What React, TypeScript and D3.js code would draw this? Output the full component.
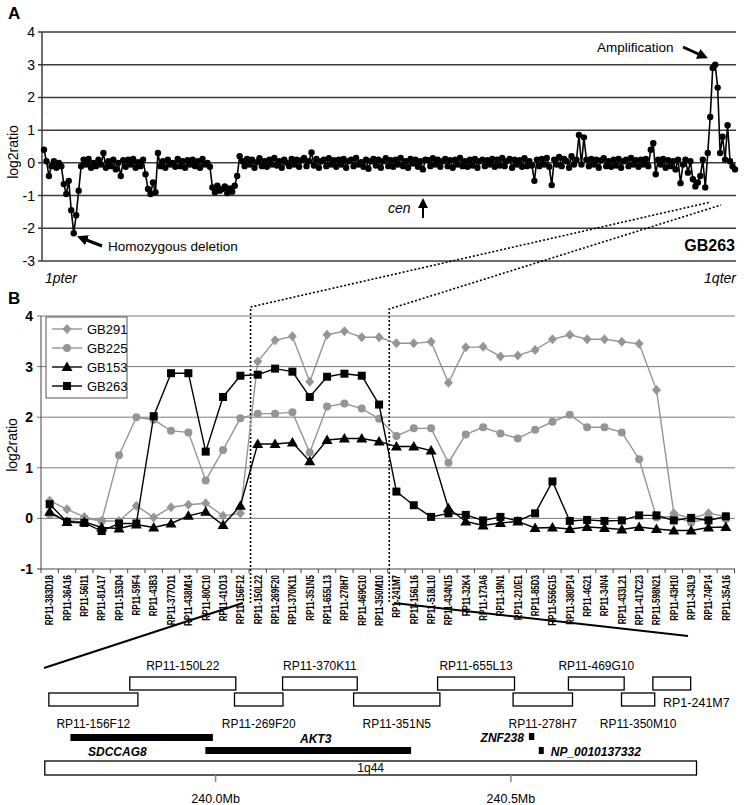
import React from "react";
import * as d3 from "d3";

// ---------- Panel A : chromosome 1 profile of GB263 (log2 ratio, ordered pter -> qter)
const cnA: number[] = [
  0.4, 0.05, -0.4, -0.1, 0.05, -0.15, 0.0, -0.1, -0.65, -0.95, -0.55, -1.45, -2.15, -1.6, -0.85, -0.1, 0.1, -0.05, 0.12, -0.15,
  0.0, -0.1, 0.1, -0.05, 0.3, -0.15, 0.05, -0.1, 0.1, -0.2, 0.0, -0.4, 0.08, -0.12, 0.1, -0.05, 0.12, -0.15, 0.02, -0.1,
  0.1, -0.35, -0.8, -0.95, -0.6, -0.9, 0.3, -0.1, 0.05, -0.15, 0.1, -0.05, 0.0, -0.12, 0.12, -0.1, 0.05, -0.15, 0.08, -0.05,
  0.1, -0.1, 0.05, -0.15, 0.12, -0.05, 0.0, -0.12, -0.75, -0.9, -0.7, -0.85, -0.8, -0.72, -0.92, -0.78, -0.88, -0.7, -0.4, 0.2,
  0.05, -0.1, 0.12, -0.05, 0.1, -0.15, 0.02, 0.14, -0.1, 0.05, -0.12, 0.1, -0.05, 0.15, -0.08, 0.05, -0.15, 0.1, 0.0, -0.1,
  0.12, -0.05, 0.1, -0.12, 0.08, 0.15, -0.1, 0.05, 0.32, -0.08, 0.12, -0.15, 0.05, 0.1, -0.1, 0.14, -0.05, 0.08, -0.12, 0.1,
  -0.05, 0.12, -0.15, 0.05, 0.1, -0.1, 0.15, -0.05, 0.02, -0.12, 0.1, -0.18, 0.05, 0.12, -0.08, 0.1, -0.15, 0.05, 0.14, -0.1,
  0.08, -0.12, 0.1, -0.05, 0.15, -0.1, 0.05, -0.15, 0.12, -0.02, 0.1, -0.12, 0.05, -0.2, 0.1, 0.08, -0.1, 0.14, -0.05, 0.1,
  -0.12, 0.05, 0.12, -0.1, 0.08, -0.15, 0.1, -0.05, 0.15, -0.1, 0.05, -0.12, 0.1, -0.08, 0.12, -0.15, 0.05, 0.1, -0.1, 0.08,
  -0.05, 0.12, -0.12, 0.1, -0.08, 0.15, -0.1, 0.05, 0.12, -0.15, 0.1, -0.05, 0.08, -0.12, 0.14, -0.1, 0.05, -0.08, -0.55, 0.1,
  -0.1, 0.12, -0.05, 0.15, -0.12, -0.68, 0.1, -0.05, 0.18, -0.1, 0.12, 0.05, -0.15, 0.2, -0.05, 0.1, 0.85, -0.05, 0.78, 0.1,
  -0.1, 0.12, -0.05, 0.1, -0.15, 0.08, 0.14, -0.1, 0.05, -0.12, 0.1, -0.08, 0.12, -0.15, 0.05, 0.1, -0.1, 0.15, -0.05, 0.08,
  -0.12, 0.1, -0.05, 0.12, -0.1, 0.4, 0.6, -0.35, 0.1, -0.05, 0.12, -0.15, 0.08, -0.1, 0.05, -0.2, 0.1, -0.62, -0.05, 0.1,
  -0.3, 0.05, -0.5, -0.72, -0.6, -0.4, 0.1, -0.75, 0.3, 1.4, 2.9, 3.0, 2.3, 0.3, 0.8, 0.1, 1.15, 0.05, -0.1, -0.2,
];
const aTicks = [4, 3, 2, 1, 0, -1, -2, -3];

// ---------- Panel B : BAC clones across 1q43-q44
const clones = [
  "RP11-383D18", "RP11-36A16", "RP11-56I11", "RP11-81A17", "RP11-153D4", "RP11-59F4", "RP11-43B3", "RP11-377O11",
  "RP11-438M14", "RP11-80C10", "RP11-41O13", "RP11-156F12",
  "RP11-150L22", "RP11-269F20", "RP11-370K11", "RP11-351N5", "RP11-655L13", "RP11-278H7", "RP11-469G10", "RP11-350M10",
  "RP1-241M7", "RP11-156L16", "RP11-518L10", "RP11-434N15", "RP11-32K4", "RP11-173A6", "RP11-19N1", "RP11-210E1",
  "RP11-85D3", "RP11-556G15", "RP11-380P14", "RP11-4G21", "RP11-34N4", "RP11-433L21", "RP11-417C23", "RP11-598N21",
  "RP11-43H10", "RP11-343L9", "RP11-74P14", "RP11-35A16",
];
const bTicks = [4, 3, 2, 1, 0, -1];
const seriesNames = ["GB291", "GB225", "GB153", "GB263"];
const gb291 = [0.35, 0.18, 0.03, -0.05, -0.05, 0.25, 0.02, 0.22, 0.27, 0.3, 0.05, 0.1,
  3.1, 3.52, 3.6, 2.7, 3.63, 3.7, 3.58, 3.58,
  3.46, 3.46, 3.49, 2.68, 3.38, 3.39, 3.2, 3.22, 3.33, 3.54, 3.63, 3.54, 3.54, 3.49, 3.45, 2.54, 0.1, 0.0, 0.1, 0.04];
const gb225 = [0.08, -0.05, 0.0, -0.05, 1.25, 2.0, 1.95, 1.73, 1.7, 0.75, 1.35, 1.98,
  2.07, 2.07, 2.1, 1.3, 2.21, 2.27, 2.17, 1.97,
  1.63, 1.78, 1.78, 1.1, 1.66, 1.8, 1.68, 1.58, 1.75, 1.91, 2.05, 1.8, 1.8, 1.7, 1.17, 0.02, 0.04, -0.08, 0.0, -0.01];
const gb153 = [0.13, -0.07, -0.07, -0.18, -0.2, -0.12, -0.18, -0.1, 0.05, 0.13, -0.13, 0.25,
  1.47, 1.47, 1.5, 1.13, 1.55, 1.58, 1.58, 1.52,
  1.42, 1.42, 1.34, 0.2, -0.06, -0.14, -0.09, -0.06, -0.19, -0.18, -0.21, -0.17, -0.19, -0.22, -0.17, -0.21, -0.24, -0.24, -0.18, -0.17];
const gb263 = [0.28, -0.07, -0.09, -0.25, -0.1, -0.1, 2.02, 2.87, 2.87, 1.32, 2.4, 2.82,
  2.84, 2.96, 2.9, 2.4, 2.8, 2.86, 2.82, 2.25,
  0.53, 0.26, 0.03, 0.1, 0.07, -0.04, 0.03, -0.05, 0.1, 0.73, -0.05, -0.03, -0.05, -0.04, 0.06, 0.06, -0.04, 0.01, -0.04, 0.04];

// ---------- Map of the amplicon (Mb)
const mapClones = ["RP11-156F12", "RP11-150L22", "RP11-269F20", "RP11-370K11", "RP11-351N5",
  "RP11-655L13", "RP11-278H7", "RP11-469G10", "RP11-350M10", "RP1-241M7"];
const mapStart = [239.7177, 239.8547, 240.032, 240.1134, 240.2337, 240.3759, 240.5037, 240.5974, 240.6873, 240.7404];
const mapEnd = [239.8684, 240.0342, 240.1141, 240.2398, 240.3798, 240.5061, 240.6043, 240.6918, 240.7435, 240.8044];
const mapRow = [1, 0, 1, 0, 1, 0, 1, 0, 1, 0];
const genes = ["SDCCAG8", "AKT3", "ZNF238", "NP_0010137332"];
const geneStart = [239.7542, 239.9826, 240.5305, 240.5472];
const geneEnd = [239.9954, 240.331, 240.5396, 240.5556];
const bandName = "1q44";
const bandStart = 239.7108;
const bandEnd = 240.8143;
const mbTicks = [240.0, 240.5];

const FONT = '"Liberation Sans", Arial, Helvetica, sans-serif';
const GRAY = "#959595";

function Marker({ type, x, y, color }: { type: string; x: number; y: number; color: string }) {
  if (type === "diamond")
    return <path d={`M${x},${y - 5}L${x + 4.5},${y}L${x},${y + 5}L${x - 4.5},${y}Z`} fill={color} />;
  if (type === "circle") return <circle cx={x} cy={y} r={4} fill={color} />;
  if (type === "triangle")
    return <path d={`M${x},${y - 5.5}L${x + 5.5},${y + 4}L${x - 5.5},${y + 4}Z`} fill={color} />;
  return <rect x={x - 4} y={y - 4} width={8} height={8} fill={color} />;
}

export default function App() {
  const W = 745, H = 805;

  // Panel A
  const xA = d3.scaleLinear().domain([0, cnA.length - 1]).range([44, 735]);
  const yA = d3.scaleLinear().domain([-3, 4]).range([261, 32]);
  const lineA = d3.line<number>().x((_, i) => xA(i)).y((d) => yA(d));

  // Panel B
  const xB = d3.scaleBand<string>().domain(clones).range([41, 734.5]);
  const bw = xB.bandwidth();
  const cx = (i: number) => (xB(clones[i]) as number) + bw / 2;
  const yB = d3.scaleLinear().domain([-1, 4]).range([569, 316]);
  const seriesValues = [gb291, gb225, gb153, gb263];
  const seriesColor = [GRAY, GRAY, "#000", "#000"];
  const seriesMarker = ["diamond", "circle", "triangle", "square"];
  const lineB = d3.line<number>().x((_, i) => cx(i)).y((d) => yB(d));

  // Map
  const xM = d3.scaleLinear().domain([240.0, 240.5]).range([215.6, 510.9]);
  const rowY = [677, 693];
  const boxH = 13;

  const leftDot = 41 + 12 * bw + 1.5;
  const rightDot = 41 + 20 * bw + 1.5;

  return (
    <svg width={W} height={H} style={{ position: "absolute", left: 0, top: 0, background: "#fff" }} fontFamily={FONT}>
      <defs>
        <marker id="ah" viewBox="0 0 10 10" refX="7" refY="5" markerWidth="3.6" markerHeight="3.6" orient="auto">
          <path d="M0,0L10,5L0,10Z" fill="#000" />
        </marker>
        <marker id="ah2" viewBox="0 0 10 10" refX="7" refY="5" markerWidth="5" markerHeight="5" orient="auto">
          <path d="M0,0L10,5L0,10Z" fill="#000" />
        </marker>
      </defs>
      <rect width={W} height={H} fill="#fff" />

      {/* ---------------- Panel A ---------------- */}
      <text x={8} y={19} fontSize={17} fontWeight="bold">A</text>
      {aTicks.map((t) => (
        <g key={"ag" + t}>
          <line x1={38} x2={736} y1={yA(t)} y2={yA(t)} stroke="#3c3c3c" strokeWidth={1.5} />
          <text x={35} y={yA(t) + 5} fontSize={14} textAnchor="end">{t}</text>
        </g>
      ))}
      <line x1={42} x2={42} y1={yA(4)} y2={yA(-3)} stroke="#3c3c3c" strokeWidth={1.5} />
      <text transform={`translate(18,152) rotate(-90)`} fontSize={14} textAnchor="middle">log2ratio</text>
      <path d={lineA(cnA) as string} fill="none" stroke="#000" strokeWidth={1.6} />
      {cnA.map((v, i) => (
        <circle key={"a" + i} cx={xA(i)} cy={yA(v)} r={3.2} fill="#000" />
      ))}
      <text x={597} y={52} fontSize={13.5}>Amplification</text>
      <line x1={683} y1={47} x2={705} y2={57} stroke="#000" strokeWidth={3} markerEnd="url(#ah)" />
      <text x={108} y={251} fontSize={13.5}>Homozygous deletion</text>
      <line x1={102} y1={246} x2={80} y2={237.5} stroke="#000" strokeWidth={3} markerEnd="url(#ah)" />
      <text x={388} y={213} fontSize={14} fontStyle="italic">cen</text>
      <line x1={423} y1={218} x2={423} y2={201} stroke="#000" strokeWidth={2} markerEnd="url(#ah2)" />
      <text x={735} y={251} fontSize={16} fontWeight="bold" textAnchor="end">GB263</text>
      <text x={45} y={283} fontSize={14} fontStyle="italic">1pter</text>
      <text x={736} y={283} fontSize={14} fontStyle="italic" textAnchor="end">1qter</text>

      {/* dotted connectors */}
      <polyline points={`${leftDot},603 ${leftDot},307 711,202`} fill="none" stroke="#000" strokeWidth={1.6} strokeDasharray="2,2" />
      <polyline points={`${rightDot},602 ${rightDot},309 721,205`} fill="none" stroke="#000" strokeWidth={1.6} strokeDasharray="2,2" />

      {/* ---------------- Panel B ---------------- */}
      <text x={8} y={304} fontSize={17} fontWeight="bold">B</text>
      {bTicks.map((t) => (
        <g key={"bg" + t}>
          <line x1={37} x2={735} y1={yB(t)} y2={yB(t)} stroke={t === -1 ? "#444" : "#7a7a7a"} strokeWidth={1} />
          <text x={33} y={yB(t) + 5} fontSize={14} fontWeight="bold" textAnchor="end">{t}</text>
        </g>
      ))}
      <line x1={41} x2={41} y1={yB(4)} y2={yB(-1)} stroke="#444" strokeWidth={1} />
      {d3.range(clones.length + 1).map((i) => (
        <line key={"bt" + i} x1={41 + i * bw} x2={41 + i * bw} y1={569} y2={573} stroke="#444" strokeWidth={1} />
      ))}
      <text transform={`translate(17,445) rotate(-90)`} fontSize={14} textAnchor="middle">log2ratio</text>
      {clones.map((c, i) => (
        <text key={c} transform={`translate(${cx(i) + 3.8},575) rotate(-90) scale(0.8,1)`} fontSize={10} fontWeight="bold" textAnchor="end">{c}</text>
      ))}

      {seriesValues.map((vals, s) => (
        <g key={seriesNames[s]}>
          <path d={lineB(vals) as string} fill="none" stroke={seriesColor[s]} strokeWidth={1.4} />
          {vals.map((v, i) => (
            <Marker key={i} type={seriesMarker[s]} x={cx(i)} y={yB(v)} color={seriesColor[s]} />
          ))}
        </g>
      ))}

      {/* legend */}
      <rect x={46} y={317} width={81} height={81} fill="#fff" stroke="#555" strokeWidth={1} />
      {seriesNames.map((n, s) => {
        const ly = 329 + s * 19;
        return (
          <g key={"lg" + n}>
            <line x1={52} x2={82} y1={ly} y2={ly} stroke={seriesColor[s]} strokeWidth={1.4} />
            <Marker type={seriesMarker[s]} x={67} y={ly} color={seriesColor[s]} />
            <text x={87} y={ly + 4.5} fontSize={13}>{n}</text>
          </g>
        );
      })}

      {/* ---------------- Amplicon map ---------------- */}
      <line x1={243} y1={603} x2={44} y2={668} stroke="#000" strokeWidth={2} />
      <line x1={394} y1={603} x2={688} y2={636} stroke="#000" strokeWidth={2} />

      {mapClones.map((c, i) => {
        const x0 = xM(mapStart[i]);
        const x1 = xM(mapEnd[i]);
        const r = mapRow[i];
        const y = rowY[r];
        const last = i === mapClones.length - 1;
        return (
          <g key={"m" + c}>
            <rect x={x0} y={y} width={x1 - x0} height={boxH} fill="#fff" stroke="#000" strokeWidth={1.3} />
            {last ? (
              <text x={663} y={707} fontSize={12.5}>{c}</text>
            ) : r === 0 ? (
              <text x={(x0 + x1) / 2} y={670} fontSize={12} textAnchor="middle">{c}</text>
            ) : (
              <text x={(x0 + x1) / 2} y={728} fontSize={12} textAnchor="middle">{c}</text>
            )}
          </g>
        );
      })}

      {/* genes */}
      <rect x={xM(geneStart[0])} y={734} width={xM(geneEnd[0]) - xM(geneStart[0])} height={7} fill="#000" />
      <text x={88} y={756} fontSize={12} fontWeight="bold" fontStyle="italic">{genes[0]}</text>
      <rect x={xM(geneStart[1])} y={747} width={xM(geneEnd[1]) - xM(geneStart[1])} height={7} fill="#000" />
      <text x={300} y={743} fontSize={12} fontWeight="bold" fontStyle="italic">{genes[1]}</text>
      <rect x={xM(geneStart[2])} y={733} width={Math.max(5, xM(geneEnd[2]) - xM(geneStart[2]))} height={7} fill="#000" />
      <text x={xM(geneStart[2]) - 5} y={742} fontSize={12} fontWeight="bold" fontStyle="italic" textAnchor="end">{genes[2]}</text>
      <rect x={xM(geneStart[3])} y={747} width={Math.max(5, xM(geneEnd[3]) - xM(geneStart[3]))} height={7} fill="#000" />
      <text x={xM(geneEnd[3]) + 7} y={756} fontSize={12} fontWeight="bold" fontStyle="italic">{genes[3]}</text>

      {/* band */}
      <rect x={xM(bandStart)} y={761} width={xM(bandEnd) - xM(bandStart)} height={14} fill="#fff" stroke="#000" strokeWidth={1.3} />
      <text x={(xM(bandStart) + xM(bandEnd)) / 2} y={772} fontSize={12} textAnchor="middle">{bandName}</text>
      {mbTicks.map((t) => (
        <g key={"mb" + t}>
          <line x1={xM(t)} x2={xM(t)} y1={775} y2={782} stroke="#888" strokeWidth={1.5} />
          <text x={xM(t)} y={803} fontSize={12.5} textAnchor="middle">{t.toFixed(1)}Mb</text>
        </g>
      ))}
    </svg>
  );
}
